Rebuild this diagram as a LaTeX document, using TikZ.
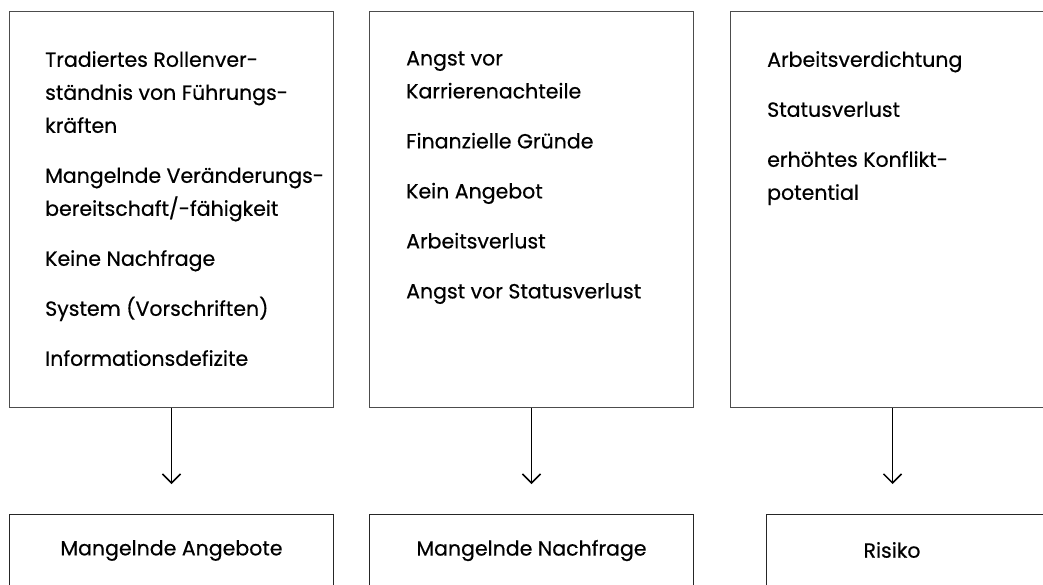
\documentclass[tikz,border=0pt]{standalone}
\usepackage{fontspec}
\setmainfont{Poppins}[FakeBold=0.5]
\usetikzlibrary{arrows.meta}

\begin{document}
\begin{tikzpicture}[x=1pt, y=-1pt,
        topbox/.style={draw=black!70, line width=1pt, minimum width=324pt, minimum height=396pt, inner sep=0pt, anchor=north west},
        botbox/.style={draw=black!85, line width=1pt, minimum width=324pt, minimum height=72pt, inner sep=0pt, anchor=north west, font=\fontsize{20.5}{24}\selectfont},
        items/.style={anchor=north west, align=left, inner sep=0pt, font=\fontsize{20.5}{33}\selectfont},
        result/.style={font=\fontsize{20.5}{24}\selectfont},
        arr/.style={-{Straight Barb[length=9pt,width=18pt]}, line width=1.5pt}]
            \clip (0,0) rectangle (1043,584);
            % causes
            \node[topbox] (c1) at (9,11) {};
            \node[topbox] (c2) at (369,11) {};
            \node[topbox] (c3) at (730,11) {};
            \node[items] (l1) at (45,51) {Tradiertes Rollenver-\\ständnis von Führungs-\\kräften\\[17pt]Mangelnde Veränderungs-\\bereitschaft/-fähigkeit\\[17pt]Keine Nachfrage\\[17pt]System (Vorschriften)\\[17pt]Informationsdefizite};
            \node[items] (l2) at (406,51) {Angst vor\\Karrierenachteile\\[17pt]Finanzielle Gründe\\[17pt]Kein Angebot\\[17pt]Arbeitsverlust\\[17pt]Angst vor Statusverlust};
            \node[items] (l3) at (767,51) {Arbeitsverdichtung\\[17pt]Statusverlust\\[17pt]erhöhtes Konflikt-\\potential};
            % effects
            \node[botbox] (r1) at (9,514) {Mangelnde Angebote};
            \node[botbox] (r2) at (369,514) {Mangelnde Nachfrage};
            \node[botbox, minimum width=330pt] (r3) at (766,514) {};
            \node[result] (r3t) at (892,550) {Risiko};
            \foreach \i in {1,2,3}
                \path (c\i.south) ++(0,76) coordinate (t\i);
            \foreach \i in {1,2,3}
                \draw[arr] (c\i.south) -- (t\i);
        \end{tikzpicture}
\end{document}
